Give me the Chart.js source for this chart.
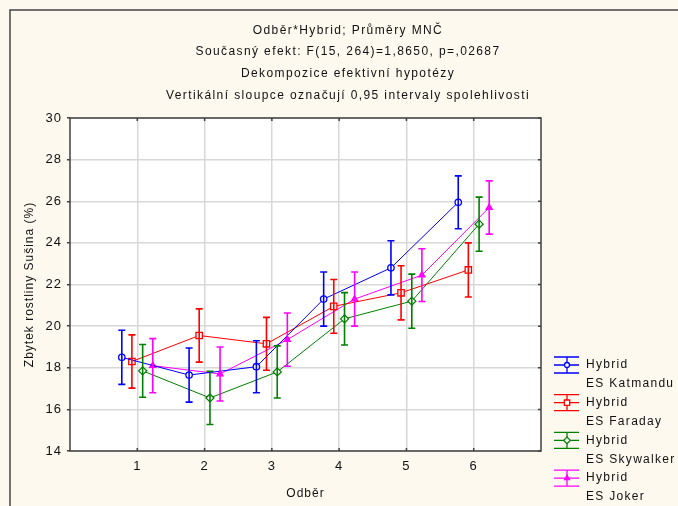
<!DOCTYPE html>
<html>
<head>
<meta charset="utf-8">
<script src="https://cdn.jsdelivr.net/npm/chart.js@4/dist/chart.umd.min.js"></script>
<style>
  html, body { margin: 0; padding: 0; background: #fdf9ef; }
  #wrap { width: 678px; height: 506px; }
</style>
</head>
<body>
<div id="wrap"><canvas id="chart" width="678" height="506"></canvas></div>
<script>
const categories = [1, 2, 3, 4, 5, 6];
const yTicks = [14, 16, 18, 20, 22, 24, 26, 28, 30];

const titleLines = [
  'Odběr*Hybrid; Průměry MNČ',
  'Současný efekt: F(15, 264)=1,8650, p=,02687',
  'Dekompozice efektivní hypotézy',
  'Vertikální sloupce označují 0,95 intervaly spolehlivosti',
];
const xTitle = 'Odběr';
const yTitle = 'Zbytek rostliny Sušina (%)';

const seriesLabels = [
  ['Hybrid', 'ES Katmandu'],
  ['Hybrid', 'ES Faraday'],
  ['Hybrid', 'ES Skywalker'],
  ['Hybrid', 'ES Joker'],
];

const katmanduMeans = [18.5, 17.65, 18.05, 21.3, 22.8, 25.95];
const katmanduCI = [1.3, 1.3, 1.25, 1.3, 1.3, 1.27];
const faradayMeans = [18.3, 19.55, 19.15, 20.95, 21.6, 22.7];
const faradayCI = [1.28, 1.28, 1.27, 1.29, 1.3, 1.3];
const skywalkerMeans = [17.85, 16.55, 17.8, 20.35, 21.2, 24.9];
const skywalkerCI = [1.27, 1.28, 1.25, 1.26, 1.3, 1.3];
const jokerMeans = [18.1, 17.7, 19.35, 21.3, 22.45, 25.7];
const jokerCI = [1.3, 1.3, 1.28, 1.3, 1.27, 1.28];

const FONT = '"Liberation Sans", Arial, sans-serif';
const BG = '#fdf9ef';
const TEXT = '#111111';

const styles = [
  { color: '#0000ff', shift: -0.23, point: 'circle', radius: 3.2, fill: '#ffffff' },
  { color: '#ff0000', shift: -0.08, point: 'rect', radius: 4.5, fill: '#ffffff' },
  { color: '#008000', shift: 0.08, point: 'rectRot', radius: 4, fill: '#ffffff' },
  { color: '#ff00ff', shift: 0.23, point: 'triangle', radius: 3.5, fill: '#ff00ff' },
];

const seriesMeans = [katmanduMeans, faradayMeans, skywalkerMeans, jokerMeans];
const seriesCI = [katmanduCI, faradayCI, skywalkerCI, jokerCI];

const datasets = seriesMeans.map((means, i) => {
  const st = styles[i];
  return {
    label: seriesLabels[i].join(' '),
    data: categories.map((c, k) => ({ x: c + st.shift, y: means[k] })),
    ci: seriesCI[i],
    borderColor: st.color,
    backgroundColor: st.fill,
    borderWidth: 1,
    pointStyle: st.point,
    pointRadius: st.radius,
    pointBorderWidth: 1.3,
    pointBackgroundColor: st.fill,
    pointBorderColor: st.color,
    tension: 0,
    fill: false,
  };
});

// background, white plot area, frame
const framePlugin = {
  id: 'frame',
  beforeDraw(chart) {
    const { ctx, chartArea: a } = chart;
    ctx.save();
    ctx.fillStyle = BG;
    ctx.fillRect(0, 0, chart.width, chart.height);
    ctx.strokeStyle = '#444444';
    ctx.lineWidth = 1.5;
    ctx.beginPath();
    ctx.moveTo(10, chart.height);
    ctx.lineTo(10, 10);
    ctx.lineTo(chart.width, 10);
    ctx.stroke();
    ctx.fillStyle = '#ffffff';
    ctx.fillRect(a.left, a.top, a.right - a.left, a.bottom - a.top);
    ctx.restore();
    // the original uses wide letter spacing for all its text
    ctx.letterSpacing = '1px';
  },
  afterDraw(chart) {
    const { ctx, chartArea: a, scales } = chart;
    ctx.save();
    ctx.strokeStyle = '#404040';
    ctx.lineWidth = 1.5;
    ctx.strokeRect(a.left, a.top, a.right - a.left, a.bottom - a.top);
    // inner ticks on top, bottom and right edges
    ctx.beginPath();
    categories.forEach((c) => {
      const x = scales.x.getPixelForValue(c);
      ctx.moveTo(x, a.top); ctx.lineTo(x, a.top + 3);
      ctx.moveTo(x, a.bottom); ctx.lineTo(x, a.bottom - 3);
    });
    yTicks.forEach((v) => {
      const y = scales.y.getPixelForValue(v);
      ctx.moveTo(a.right, y); ctx.lineTo(a.right - 3, y);
    });
    ctx.stroke();

    // title lines
    ctx.fillStyle = TEXT;
    ctx.font = '12px ' + FONT;
    ctx.letterSpacing = '1.4px';
    ctx.textAlign = 'center';
    ctx.textBaseline = 'middle';
    const titleY = [31, 52, 74, 96];
    titleLines.forEach((line, i) => ctx.fillText(line, 348, titleY[i]));
    ctx.restore();
  },
};

// confidence interval whiskers
const errorBarPlugin = {
  id: 'errorBars',
  afterDatasetsDraw(chart) {
    const { ctx, scales } = chart;
    ctx.save();
    chart.data.datasets.forEach((ds) => {
      ctx.strokeStyle = ds.borderColor;
      ctx.lineWidth = 1.6;
      ctx.beginPath();
      ds.data.forEach((pt, k) => {
        const x = scales.x.getPixelForValue(pt.x);
        const yTop = scales.y.getPixelForValue(pt.y + ds.ci[k]);
        const yBot = scales.y.getPixelForValue(pt.y - ds.ci[k]);
        ctx.moveTo(x, yTop); ctx.lineTo(x, yBot);
        ctx.moveTo(x - 3.5, yTop); ctx.lineTo(x + 3.5, yTop);
        ctx.moveTo(x - 3.5, yBot); ctx.lineTo(x + 3.5, yBot);
      });
      ctx.stroke();
    });
    ctx.restore();
  },
};

// legend at the right, drawn like the original whisker icons
const legendPlugin = {
  id: 'sideLegend',
  afterDraw(chart) {
    const { ctx } = chart;
    ctx.save();
    chart.data.datasets.forEach((ds, i) => {
      const cy = 365 + i * 37.7;
      const x0 = 554, x1 = 579, xm = 567;
      ctx.strokeStyle = ds.borderColor;
      ctx.lineWidth = 1.3;
      ctx.beginPath();
      ctx.moveTo(x0, cy - 8); ctx.lineTo(x1, cy - 8);
      ctx.moveTo(x0, cy); ctx.lineTo(x1, cy);
      ctx.moveTo(x0, cy + 8); ctx.lineTo(x1, cy + 8);
      ctx.moveTo(xm, cy - 8); ctx.lineTo(xm, cy + 8);
      ctx.stroke();
      ctx.fillStyle = ds.pointBackgroundColor;
      ctx.strokeStyle = ds.borderColor;
      Chart.helpers.drawPoint(ctx, {
        pointStyle: ds.pointStyle,
        radius: ds.pointRadius - 0.7,
        borderWidth: 1.3,
        rotation: 0,
      }, xm, cy);
      ctx.fillStyle = TEXT;
      ctx.font = '12px ' + FONT;
      ctx.letterSpacing = '1.3px';
      ctx.textAlign = 'left';
      ctx.textBaseline = 'middle';
      ctx.fillText(seriesLabels[i][0], 586, cy);
      ctx.fillText(seriesLabels[i][1], 586, cy + 19);
    });
    ctx.restore();
  },
};

new Chart(document.getElementById('chart'), {
  type: 'line',
  data: { datasets },
  plugins: [framePlugin, errorBarPlugin, legendPlugin],
  options: {
    responsive: false,
    animation: false,
    layout: { padding: { left: 10, top: 118, right: 137, bottom: 0 } },
    plugins: {
      legend: { display: false },
      title: { display: false },
      tooltip: { enabled: false },
    },
    scales: {
      x: {
        type: 'linear',
        min: 0,
        max: 7,
        afterBuildTicks: (scale) => {
          scale.ticks = categories.map((c) => ({ value: c }));
        },
        afterFit: (scale) => { scale.height = 55; },
        ticks: {
          color: TEXT,
          font: { family: FONT, size: 13 },
          padding: 8,
          callback: (v) => String(v),
        },
        grid: { color: '#d8d8d8', lineWidth: 1.5, drawTicks: false },
        border: { display: false },
        title: {
          display: true,
          text: xTitle,
          color: TEXT,
          font: { family: FONT, size: 12 },
          padding: { top: 6, bottom: 5 },
        },
      },
      y: {
        min: 14,
        max: 30,
        afterBuildTicks: (scale) => {
          scale.ticks = yTicks.map((v) => ({ value: v }));
        },
        afterFit: (scale) => { scale.width = 60; },
        ticks: {
          color: TEXT,
          font: { family: FONT, size: 13 },
          padding: 5,
        },
        grid: { color: '#d8d8d8', lineWidth: 1.5, tickLength: 3, tickColor: '#404040' },
        border: { display: false },
        title: {
          display: true,
          text: yTitle,
          color: TEXT,
          font: { family: FONT, size: 12 },
          padding: { top: 12, bottom: 0 },
        },
      },
    },
  },
});
</script>
</body>
</html>
